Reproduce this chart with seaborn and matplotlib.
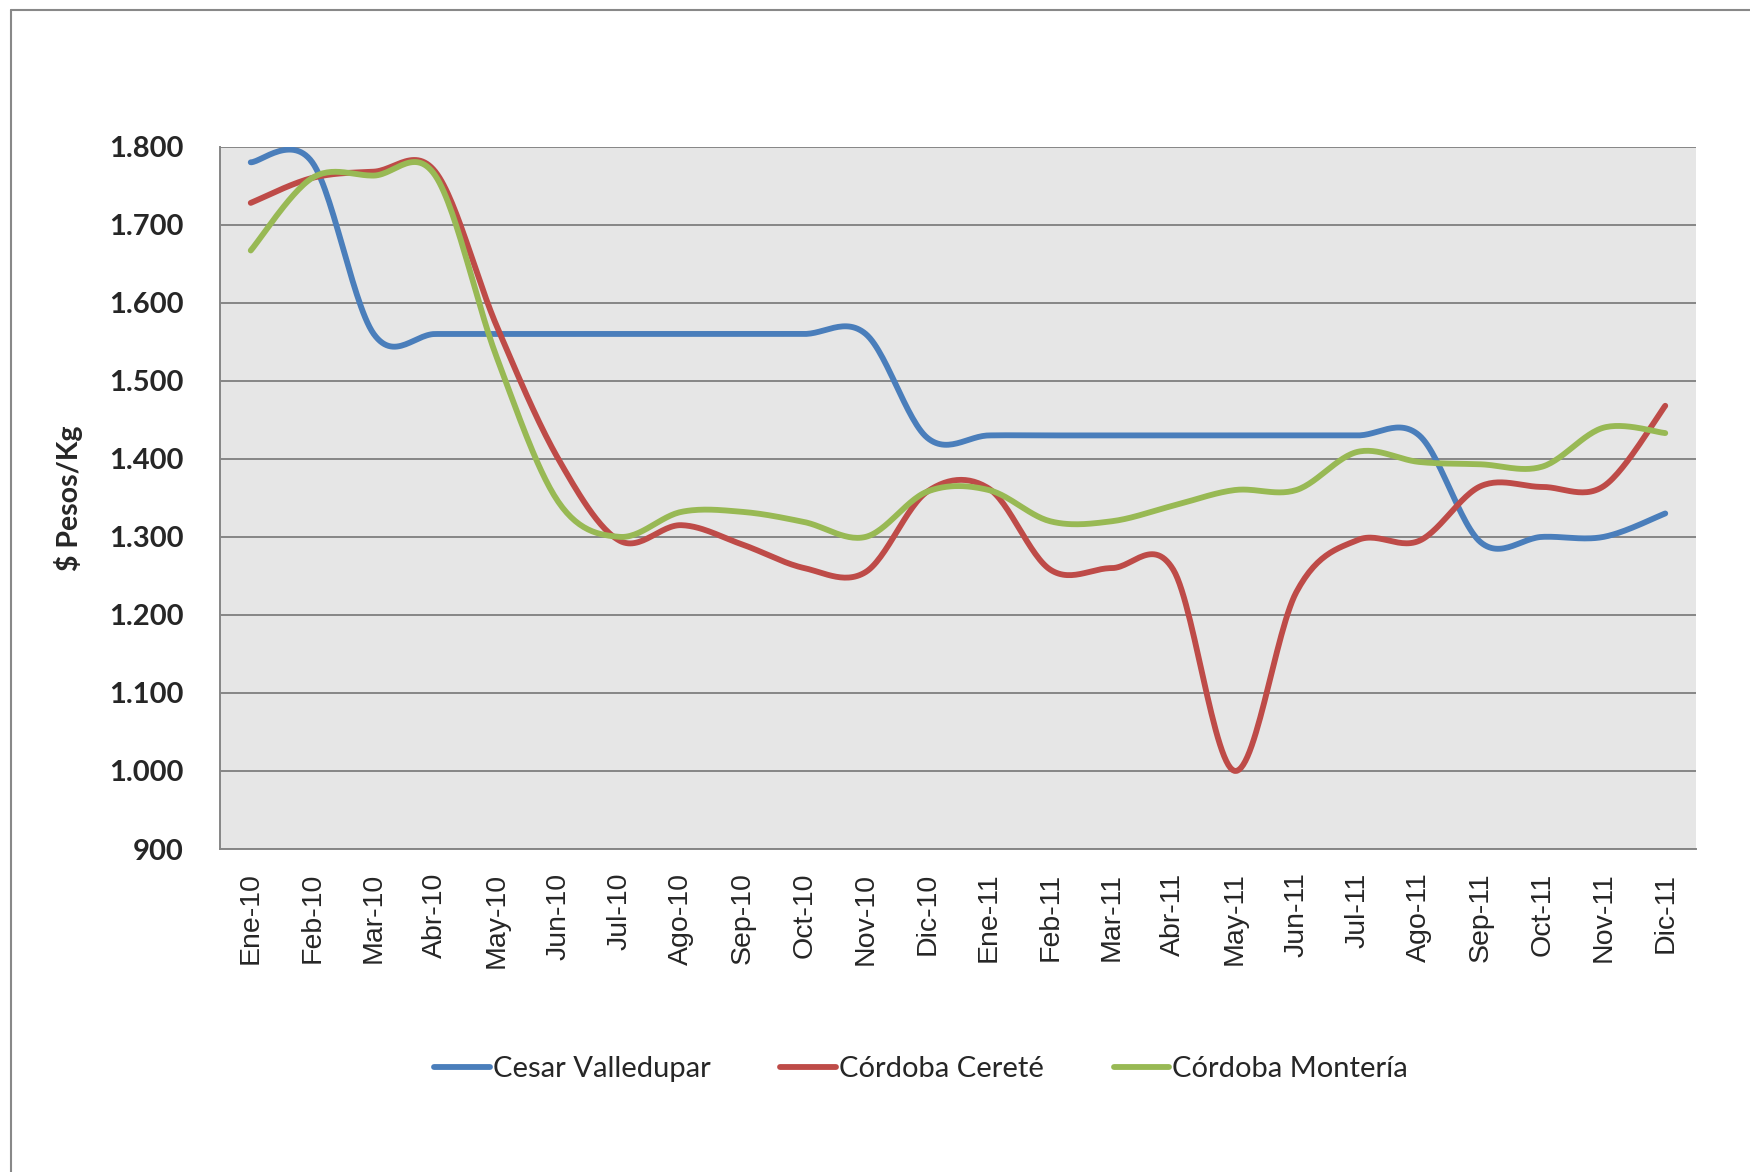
import numpy as np
import pandas as pd
import seaborn as sns
import matplotlib.pyplot as plt
from matplotlib.lines import Line2D
from matplotlib.ticker import FuncFormatter

# Data ($ Pesos/Kg)
meses = ['Ene-10', 'Feb-10', 'Mar-10', 'Abr-10', 'May-10', 'Jun-10', 'Jul-10', 'Ago-10',
         'Sep-10', 'Oct-10', 'Nov-10', 'Dic-10', 'Ene-11', 'Feb-11', 'Mar-11', 'Abr-11',
         'May-11', 'Jun-11', 'Jul-11', 'Ago-11', 'Sep-11', 'Oct-11', 'Nov-11', 'Dic-11']
cesar_valledupar = [1780, 1780, 1560, 1560, 1560, 1560, 1560, 1560, 1560, 1560, 1560, 1427,
                    1430, 1430, 1430, 1430, 1430, 1430, 1430, 1430, 1293, 1300, 1300, 1330]
cordoba_cerete = [1728, 1760, 1768, 1768, 1570, 1400, 1295, 1315, 1290, 1260, 1255, 1358,
                  1362, 1258, 1260, 1258, 1000, 1229, 1296, 1295, 1365, 1364, 1365, 1468]
cordoba_monteria = [1667, 1760, 1763, 1763, 1530, 1345, 1300, 1332, 1332, 1319, 1300, 1358,
                    1360, 1320, 1320, 1340, 1360, 1360, 1409, 1396, 1393, 1390, 1440, 1433]

series = {'Cesar Valledupar': cesar_valledupar,
          'Córdoba Cereté': cordoba_cerete,
          'Córdoba Montería': cordoba_monteria}
colores = {'Cesar Valledupar': '#4A7EBB',
           'Córdoba Cereté': '#BE4B48',
           'Córdoba Montería': '#98B954'}


def suavizar(y, n=30):
    # Excel-like smoothed line (Catmull-Rom Bezier through the points)
    y = np.asarray(y, dtype=float)
    x = np.arange(len(y), dtype=float)
    px = np.concatenate([[x[0]], x, [x[-1]]])
    py = np.concatenate([[y[0]], y, [y[-1]]])
    xs, ys = [], []
    t = np.linspace(0, 1, n)
    for i in range(1, len(px) - 2):
        p0 = np.array([px[i - 1], py[i - 1]])
        p1 = np.array([px[i], py[i]])
        p2 = np.array([px[i + 1], py[i + 1]])
        p3 = np.array([px[i + 2], py[i + 2]])
        c1 = p1 + (p2 - p0) / 6
        c2 = p2 - (p3 - p1) / 6
        b = ((1 - t) ** 3)[:, None] * p1 + (3 * (1 - t) ** 2 * t)[:, None] * c1 \
            + (3 * (1 - t) * t ** 2)[:, None] * c2 + (t ** 3)[:, None] * p2
        xs.extend(b[:, 0])
        ys.extend(b[:, 1])
    return np.array(xs), np.array(ys)


frames = []
for nombre, vals in series.items():
    sx, sy = suavizar(vals)
    frames.append(pd.DataFrame({'x': sx, 'y': sy, 'serie': nombre}))
df = pd.concat(frames, ignore_index=True)

sns.set_style('white', {'axes.facecolor': '#E6E6E6'})
plt.rcParams['font.family'] = ['Lato', 'DejaVu Sans']

fig = plt.figure(figsize=(17.5, 11.72), dpi=100)
ax = fig.add_axes([220 / 1750, 1 - 849 / 1172, (1696 - 220) / 1750, (849 - 146.7) / 1172])

sns.lineplot(data=df, x='x', y='y', hue='serie', palette=colores, units='serie',
             estimator=None, sort=False, linewidth=4.2, legend=False, ax=ax,
             solid_capstyle='round')

ax.set_xlim(-0.5, len(meses) - 0.5)
ax.set_ylim(900, 1800)
ax.set_yticks(np.arange(900, 1801, 100))
ax.yaxis.set_major_formatter(FuncFormatter(lambda v, p: f'{int(v):,}'.replace(',', '.')))
ax.set_xticks(np.arange(len(meses)))
ax.set_xticklabels(meses, rotation=90, fontfamily='Liberation Sans', fontsize=20.5)
ax.set_xticks(np.arange(-0.5, len(meses)), minor=True)
ax.tick_params(axis='x', which='major', length=0, pad=17)
ax.tick_params(axis='x', which='minor', length=7, width=1.4, color='#868686', direction='out')
ax.tick_params(axis='y', length=7, width=1.4, color='#868686', pad=19, labelsize=21)
for lab in ax.get_yticklabels():
    lab.set_fontweight('bold')

ax.grid(axis='y', color='#868686', linewidth=1.4)
ax.set_axisbelow(True)
for s in ['top', 'right']:
    ax.spines[s].set_visible(False)
for s in ['left', 'bottom']:
    ax.spines[s].set_color('#868686')
    ax.spines[s].set_linewidth(1.4)

ax.set_xlabel('')
ax.set_ylabel('$ Pesos/Kg', fontsize=20.5, fontweight='bold')
ax.yaxis.set_label_coords(-137 / 1476, 0.5)

# chart border (Excel chart area)
fig.add_artist(Line2D([11 / 1750, 11 / 1750], [0, 1 - 10 / 1172], color='#888888', linewidth=1.5))
fig.add_artist(Line2D([11 / 1750, 1], [1 - 10 / 1172, 1 - 10 / 1172], color='#888888', linewidth=1.5))

handles = [Line2D([], [], color=colores[n], linewidth=4.2, solid_capstyle='round') for n in series]
fig.legend(handles, list(series.keys()), loc='center', bbox_to_anchor=(921 / 1750, 1 - 1069 / 1172),
           ncol=3, frameon=False, fontsize=21, handlelength=1.9, handletextpad=0.1,
           columnspacing=2.4)

fig.savefig('out.png', dpi=100)
